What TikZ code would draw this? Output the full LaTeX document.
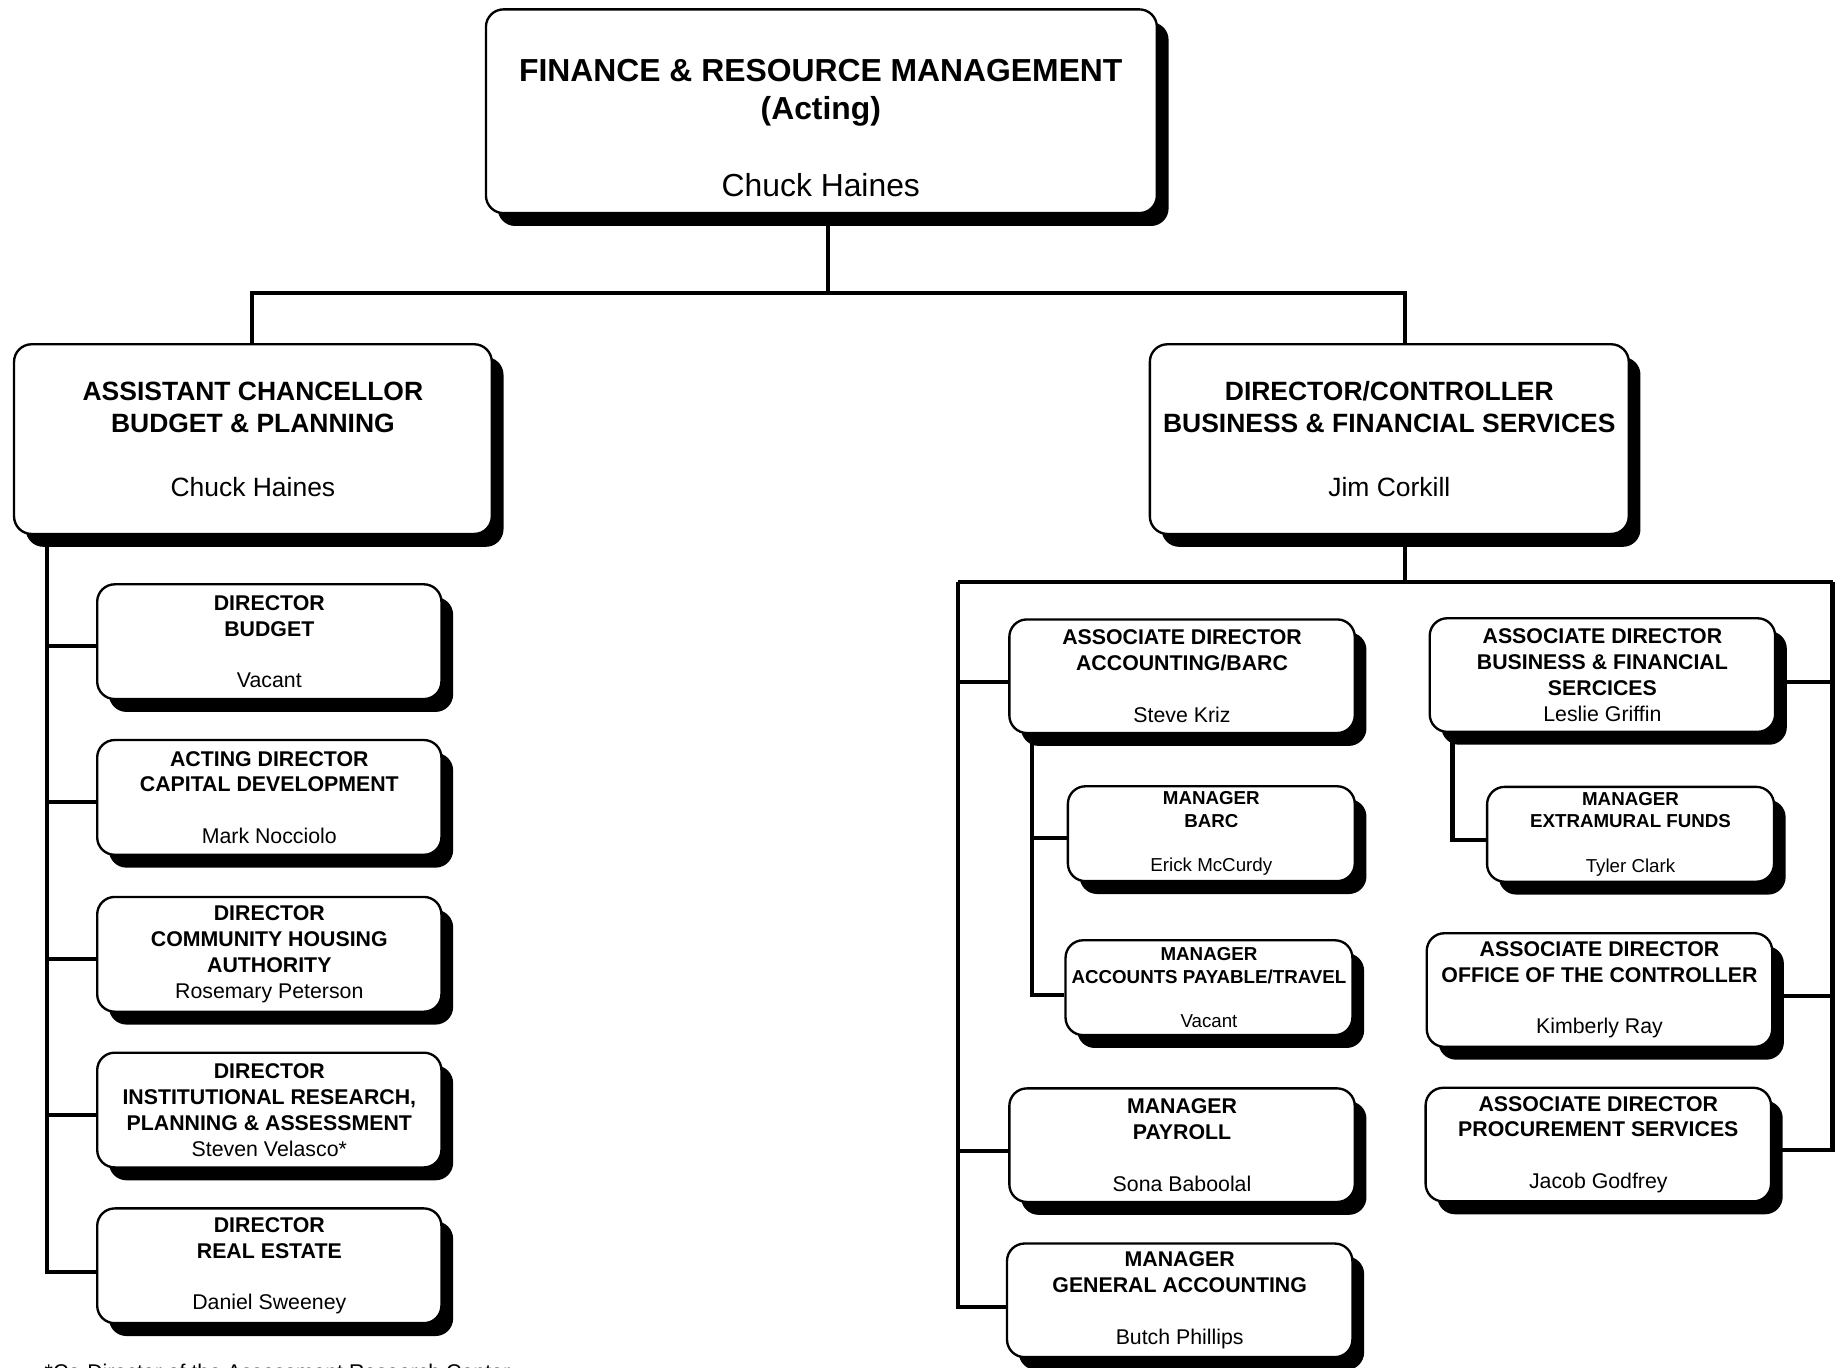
\documentclass[tikz,border=0pt]{standalone}
\usepackage{fontspec}
\setmainfont{Liberation Sans}
\usetikzlibrary{shadows,backgrounds}
\begin{document}
\begin{tikzpicture}[x=1pt,y=-1pt,
  box/.style={draw, line width=2pt, rounded corners=15pt, fill=white,
    drop shadow={shadow xshift=10pt, shadow yshift=-11pt, opacity=1, fill=black},
    align=center, inner sep=0pt},
  big/.style={font=\fontsize{27.2}{32.7}\selectfont},
  mid/.style={font=\fontsize{22.6}{27.3}\selectfont},
  sm/.style={font=\fontsize{18.2}{22}\selectfont},
  xs/.style={font=\fontsize{16}{19}\selectfont},
  conn/.style={line width=3.5pt},
  lw/.style={minimum width=294pt, minimum height=98pt},
  rw/.style={minimum width=295pt, minimum height=97pt},
  sw/.style={minimum width=245pt, minimum height=81pt}]
\useasboundingbox (0,0) rectangle (1568,1168);

% top
\node[box, minimum width=573pt, minimum height=174pt] (top) at (701.5,95) {};
\node[big, align=center, inner sep=0pt] (toptext) at (701,109)
  {\textbf{FINANCE \& RESOURCE MANAGEMENT}\\\textbf{(Acting)}\\[\baselineskip]Chuck Haines};

% level 2
\node[box, mid, minimum width=408pt, minimum height=162pt] (acb) at (216,375)
  {\textbf{ASSISTANT CHANCELLOR}\\\textbf{BUDGET \& PLANNING}\\[\baselineskip]Chuck Haines};
\node[box, mid, minimum width=409pt, minimum height=162pt] (dcb) at (1186.5,375)
  {\textbf{DIRECTOR/CONTROLLER}\\\textbf{BUSINESS \& FINANCIAL SERVICES}\\[\baselineskip]Jim Corkill};

% left children
\node[box, sm, lw] (db) at (230,548)
  {\textbf{DIRECTOR}\\\textbf{BUDGET}\\[\baselineskip]Vacant};
\node[box, sm, lw] (dcd) at (230,681)
  {\textbf{ACTING DIRECTOR}\\\textbf{CAPITAL DEVELOPMENT}\\[\baselineskip]Mark Nocciolo};
\node[box, sm, lw] (dch) at (230,815)
  {\textbf{DIRECTOR}\\\textbf{COMMUNITY HOUSING}\\\textbf{AUTHORITY}\\Rosemary Peterson};
\node[box, sm, lw] (dir) at (230,948)
  {\textbf{DIRECTOR}\\\textbf{INSTITUTIONAL RESEARCH,}\\\textbf{PLANNING \& ASSESSMENT}\\Steven Velasco*};
\node[box, sm, lw] (dre) at (230,1081)
  {\textbf{DIRECTOR}\\\textbf{REAL ESTATE}\\[\baselineskip]Daniel Sweeney};

% right children
\node[box, sm, rw] (ada) at (1009.5,577.5)
  {\textbf{ASSOCIATE DIRECTOR}\\\textbf{ACCOUNTING/BARC}\\[\baselineskip]Steve Kriz};
\node[box, xs, sw] (mbarc) at (1034.5,712)
  {\textbf{MANAGER}\\\textbf{BARC}\\[\baselineskip]Erick McCurdy};
\node[box, xs, sw] (map) at (1032.5,843.5)
  {\textbf{MANAGER}\\\textbf{ACCOUNTS PAYABLE/TRAVEL}\\[\baselineskip]Vacant};
\node[box, sm, rw] (mpay) at (1009.5,978)
  {\textbf{MANAGER}\\\textbf{PAYROLL}\\[\baselineskip]Sona Baboolal};
\node[box, sm, rw] (mga) at (1007.5,1110.5)
  {\textbf{MANAGER}\\\textbf{GENERAL ACCOUNTING}\\[\baselineskip]Butch Phillips};
\node[box, sm, rw] (adbfs) at (1368.5,576.5)
  {\textbf{ASSOCIATE DIRECTOR}\\\textbf{BUSINESS \& FINANCIAL}\\\textbf{SERCICES}\\Leslie Griffin};
\node[box, xs, sw] (mef) at (1392.5,712.5)
  {\textbf{MANAGER}\\\textbf{EXTRAMURAL FUNDS}\\[\baselineskip]Tyler Clark};
\node[box, sm, rw] (aoc) at (1366,845.5)
  {\textbf{ASSOCIATE DIRECTOR}\\\textbf{OFFICE OF THE CONTROLLER}\\[\baselineskip]Kimberly Ray};
\node[box, sm, rw] (aps) at (1365,977.5)
  {\textbf{ASSOCIATE DIRECTOR}\\\textbf{PROCUREMENT SERVICES}\\[\baselineskip]Jacob Godfrey};

% footnote (cut by the lower edge, as in the reference)
\node[sm, anchor=north west, inner sep=0pt] (fn) at (38,1164.5)
  {*Co-Director of the Assessment Research Center};

\begin{scope}[on background layer]
  % top to level 2
  \draw[conn] ([xshift=6pt]top.south) -- ++(0,67) coordinate (j1);
  \draw[conn] ([xshift=-1pt]acb.north) |- (j1) -| ([xshift=13.5pt]dcb.north);
  % left tree
  \coordinate (lt) at ([xshift=-176pt]acb.south);
  \coordinate (l5) at ([yshift=-5pt]dre.west);
  \draw[conn] (lt) |- (l5);
  \foreach \n in {db,dcd,dch,dir}{
    \coordinate (tmp) at ([yshift=-4pt]\n.west);
    \draw[conn] (tmp) -- (tmp -| lt);
  }
  % right tree
  \draw[conn] ([xshift=13.5pt]dcb.south) -- ++(0,41) coordinate (rh);
  \coordinate (rl) at (818,497);
  \coordinate (rr) at (1565,497);
  \draw[conn] (rl) -- (rr);
  \coordinate (g1) at ([yshift=-6pt]mga.west);
  \draw[conn] (rl) |- (g1);
  \coordinate (a1) at ([yshift=-5pt]ada.west);
  \draw[conn] (a1) -- (a1 -| rl);
  \coordinate (p1) at ([yshift=-5pt]mpay.west);
  \draw[conn] (p1) -- (p1 -| rl);
  \coordinate (s1) at ([yshift=-5pt]aps.east);
  \draw[conn] (rr) |- (s1);
  \coordinate (b1) at ([yshift=-6pt]adbfs.east);
  \draw[conn] (b1) -- (b1 -| rr);
  \coordinate (c1) at ([yshift=-5pt]aoc.east);
  \draw[conn] (c1) -- (c1 -| rr);
  % sub trees
  \coordinate (sa) at ([xshift=-128pt]ada.south);
  \coordinate (m2) at ([yshift=-6pt]map.west);
  \draw[conn] (sa) |- (m2);
  \coordinate (m1) at ([yshift=-4pt]mbarc.west);
  \draw[conn] (m1) -- (m1 -| sa);
  \coordinate (sb) at ([xshift=-128pt]adbfs.south);
  \coordinate (e1) at ([yshift=-5pt]mef.west);
  \draw[conn] (sb) |- (e1);
\end{scope}
\end{tikzpicture}
\end{document}
